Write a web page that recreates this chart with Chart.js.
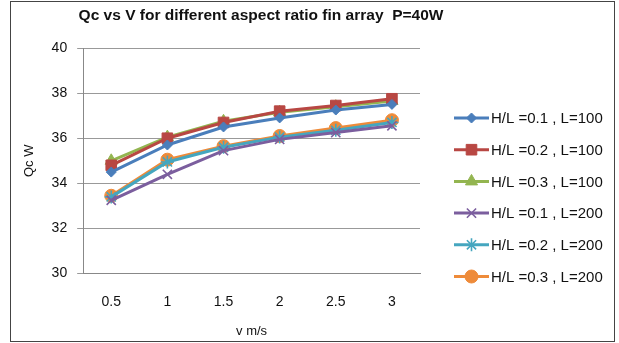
<!DOCTYPE html>
<html>
<head>
<meta charset="utf-8">
<script src="https://cdn.jsdelivr.net/npm/chart.js"></script>
<style>
  body { margin: 0; background: #fff; }
  .wrap { position: relative; width: 619px; height: 343px; }
  .frame { position: absolute; left: 10px; top: 1px; width: 603px; height: 339px; border: 1px solid #444; pointer-events: none; }
</style>
</head>
<body>
<div class="wrap">
  <canvas id="qcChart" width="619" height="343"></canvas>
  <div class="frame"></div>
</div>
<script>
// Air velocity (m/s)
const velocities = ['0.5', '1', '1.5', '2', '2.5', '3'];

// Heat dissipated Qc (W) for each fin array
const hl01L100 = [34.5, 35.7, 36.5, 36.9, 37.25, 37.5];
const hl02L100 = [34.8, 36.0, 36.7, 37.2, 37.45, 37.75];
const hl03L100 = [35.0, 36.05, 36.75, 37.15, 37.4, 37.65];
const hl01L200 = [33.25, 34.4, 35.45, 35.95, 36.25, 36.55];
const hl02L200 = [33.4, 34.95, 35.6, 36.05, 36.35, 36.7];
const hl03L200 = [33.45, 35.05, 35.65, 36.1, 36.45, 36.8];

const seriesNames = ['H/L =0.1 , L=100', 'H/L =0.2 , L=100', 'H/L =0.3 , L=100',
                     'H/L =0.1 , L=200', 'H/L =0.2 , L=200', 'H/L =0.3 , L=200'];

const yTicks = [30, 32, 34, 36, 38, 40];

const chartTitle = 'Qc vs V for different aspect ratio fin array  P=40W';

const FONT = 'Liberation Sans, Arial, sans-serif';

function series(label, data, color, style, radius) {
    return {
        label: label,
        data: data,
        borderColor: color,
        backgroundColor: color,
        pointBackgroundColor: color,
        pointBorderColor: color,
        borderWidth: 3,
        pointStyle: style,
        pointRadius: radius,
        pointBorderWidth: (style === 'crossRot' || style === 'star') ? 1.6 : 1,
        tension: 0
    };
}

// Title and right-hand legend (short line with the marker in the middle)
const decorations = {
    id: 'decorations',
    afterDraw(chart) {
        const ctx = chart.ctx;
        ctx.save();
        ctx.fillStyle = '#111';
        ctx.font = 'bold 15.5px ' + FONT;
        ctx.textAlign = 'center';
        ctx.textBaseline = 'middle';
        ctx.fillText(chartTitle, 261, 16);
        ctx.restore();

        const x0 = 454, x1 = 489, top = 118, gap = 31.7;
        chart.data.datasets.forEach((ds, i) => {
            const y = top + i * gap;
            ctx.save();
            ctx.strokeStyle = ds.borderColor;
            ctx.lineWidth = 3;
            ctx.beginPath();
            ctx.moveTo(x0, y);
            ctx.lineTo(x1, y);
            ctx.stroke();
            ctx.fillStyle = ds.pointBackgroundColor;
            ctx.strokeStyle = ds.pointBorderColor;
            ctx.lineWidth = ds.pointBorderWidth;
            Chart.helpers.drawPoint(ctx, {
                pointStyle: ds.pointStyle,
                radius: ds.pointRadius,
                borderWidth: ds.pointBorderWidth,
                rotation: 0
            }, (x0 + x1) / 2, y);
            ctx.fillStyle = '#111';
            ctx.font = '15px ' + FONT;
            ctx.textBaseline = 'middle';
            ctx.textAlign = 'left';
            ctx.fillText(ds.label, x1 + 2, y + 1);
            ctx.restore();
        });
    }
};

new Chart(document.getElementById('qcChart').getContext('2d'), {
    type: 'line',
    data: {
        labels: velocities,
        datasets: [
            series(seriesNames[0], hl01L100, '#4A7EBB', 'rectRot', 5),
            series(seriesNames[1], hl02L100, '#B84743', 'rect', 7.5),
            series(seriesNames[2], hl03L100, '#93B550', 'triangle', 7),
            series(seriesNames[3], hl01L200, '#7B5E9E', 'crossRot', 6.5),
            series(seriesNames[4], hl02L200, '#45A6BF', 'star', 6.5),
            series(seriesNames[5], hl03L200, '#EE8B3A', 'circle', 6.5)
        ]
    },
    options: {
        responsive: false,
        animation: false,
        devicePixelRatio: 1,
        layout: { padding: { left: 22, right: 199, top: 48, bottom: 4 } },
        plugins: {
            legend: { display: false },
            tooltip: { enabled: false },
            title: { display: false }
        },
        scales: {
            x: {
                offset: true,
                grid: { display: false, drawTicks: false },
                border: { color: '#888', width: 1 },
                ticks: { color: '#111', padding: 20, font: { family: FONT, size: 14 } },
                title: {
                    display: true,
                    text: 'v m/s',
                    color: '#111',
                    font: { family: FONT, size: 13 },
                    padding: { top: -7, bottom: 0 }
                }
            },
            y: {
                min: 30,
                max: 40,
                afterBuildTicks(scale) {
                    scale.ticks = yTicks.map(v => ({ value: v }));
                },
                grid: { color: '#999', lineWidth: 1, tickLength: 6 },
                border: { color: '#888', width: 1 },
                ticks: { color: '#111', padding: 10, font: { family: FONT, size: 14 } },
                title: {
                    display: true,
                    text: 'Qc W',
                    color: '#111',
                    font: { family: FONT, size: 13 },
                    padding: { top: 0, bottom: 4 }
                }
            }
        }
    },
    plugins: [decorations]
});
</script>
</body>
</html>
